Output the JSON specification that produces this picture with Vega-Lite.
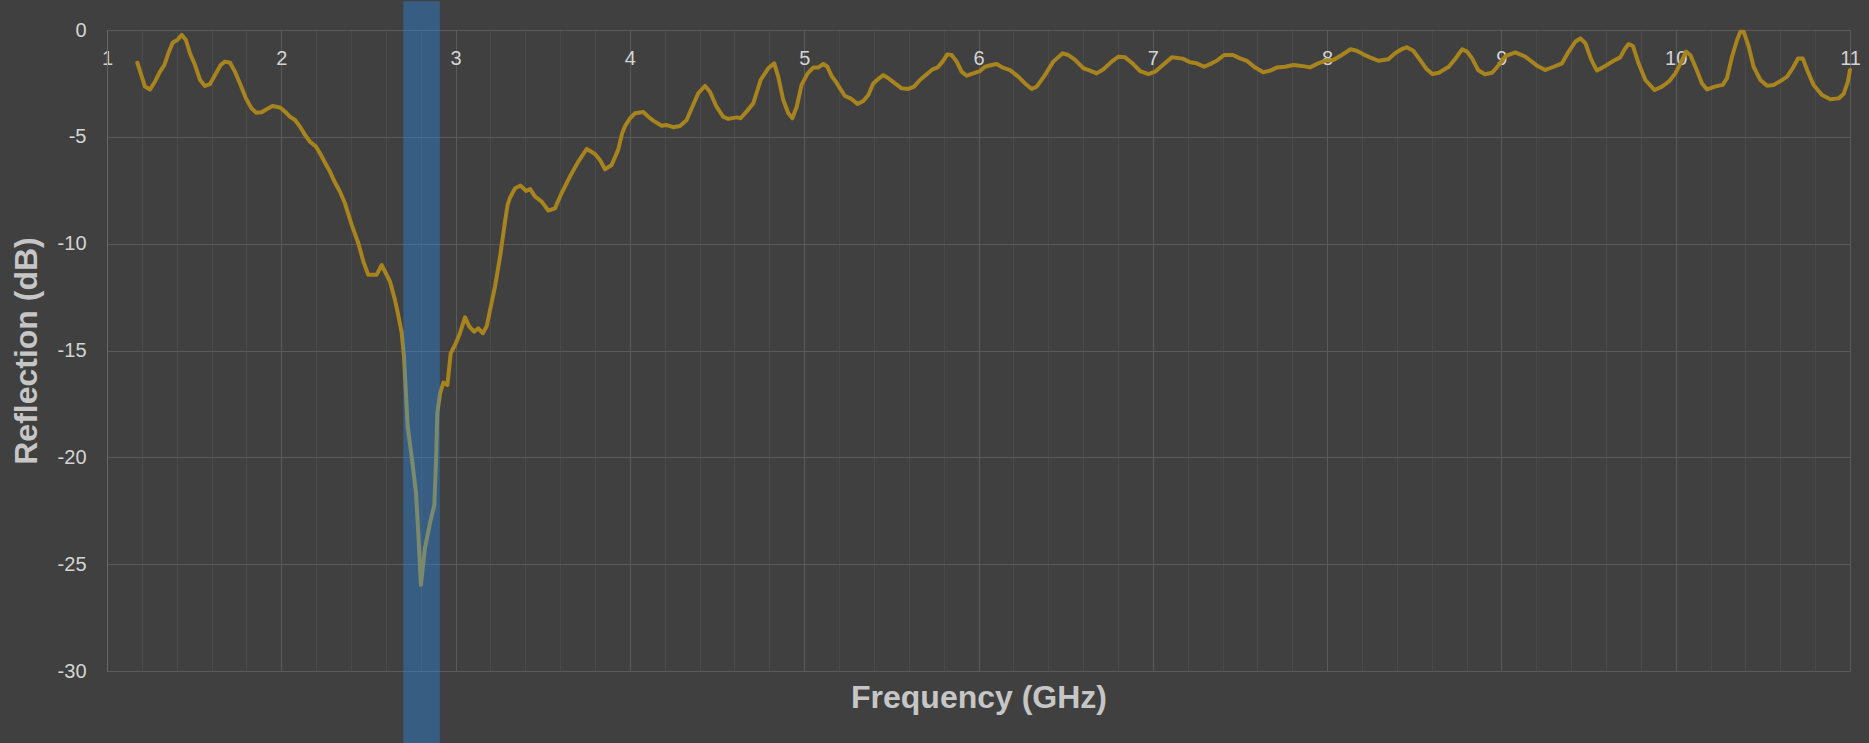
{
  "$schema": "https://vega.github.io/schema/vega-lite/v6.json",
  "autosize": {"type": "none"},
  "width": 1743,
  "height": 641,
  "padding": {"left": 107, "top": 30, "right": 19, "bottom": 72},
  "background": "#404040",
  "config": {"view": {"stroke": null}, "font": "Liberation Sans"},
  "datasets": {
    "response": [
      {"f": 1.174, "db": -1.53}, {"f": 1.218, "db": -2.65}, {"f": 1.247, "db": -2.78}, {"f": 1.275, "db": -2.42},
      {"f": 1.304, "db": -1.95}, {"f": 1.329, "db": -1.64}, {"f": 1.352, "db": -1.09}, {"f": 1.377, "db": -0.59},
      {"f": 1.404, "db": -0.47}, {"f": 1.428, "db": -0.23}, {"f": 1.453, "db": -0.47}, {"f": 1.476, "db": -1.09},
      {"f": 1.505, "db": -1.64}, {"f": 1.534, "db": -2.34}, {"f": 1.562, "db": -2.62}, {"f": 1.591, "db": -2.53},
      {"f": 1.62, "db": -2.11}, {"f": 1.652, "db": -1.64}, {"f": 1.677, "db": -1.48}, {"f": 1.706, "db": -1.53},
      {"f": 1.734, "db": -1.95}, {"f": 1.763, "db": -2.5}, {"f": 1.797, "db": -3.2}, {"f": 1.83, "db": -3.67},
      {"f": 1.855, "db": -3.87}, {"f": 1.887, "db": -3.85}, {"f": 1.916, "db": -3.71}, {"f": 1.95, "db": -3.56},
      {"f": 1.993, "db": -3.63}, {"f": 2.021, "db": -3.82}, {"f": 2.05, "db": -4.06}, {"f": 2.079, "db": -4.21},
      {"f": 2.107, "db": -4.52}, {"f": 2.136, "db": -4.91}, {"f": 2.165, "db": -5.23}, {"f": 2.199, "db": -5.46},
      {"f": 2.222, "db": -5.77}, {"f": 2.251, "db": -6.21}, {"f": 2.279, "db": -6.63}, {"f": 2.308, "db": -7.14},
      {"f": 2.337, "db": -7.57}, {"f": 2.365, "db": -8.11}, {"f": 2.404, "db": -9.12}, {"f": 2.442, "db": -9.98},
      {"f": 2.471, "db": -10.84}, {"f": 2.499, "db": -11.46}, {"f": 2.547, "db": -11.46}, {"f": 2.576, "db": -11.0},
      {"f": 2.595, "db": -11.31}, {"f": 2.624, "db": -11.78}, {"f": 2.652, "db": -12.63}, {"f": 2.671, "db": -13.34},
      {"f": 2.691, "db": -14.19}, {"f": 2.704, "db": -15.29}, {"f": 2.715, "db": -17.0}, {"f": 2.725, "db": -18.56},
      {"f": 2.748, "db": -19.97}, {"f": 2.773, "db": -21.68}, {"f": 2.786, "db": -23.55}, {"f": 2.801, "db": -25.97},
      {"f": 2.824, "db": -24.25}, {"f": 2.853, "db": -23.08}, {"f": 2.878, "db": -22.23}, {"f": 2.888, "db": -20.12},
      {"f": 2.895, "db": -17.94}, {"f": 2.911, "db": -17.0}, {"f": 2.93, "db": -16.5}, {"f": 2.953, "db": -16.61},
      {"f": 2.972, "db": -15.13}, {"f": 2.997, "db": -14.74}, {"f": 3.025, "db": -14.19}, {"f": 3.054, "db": -13.45},
      {"f": 3.079, "db": -13.88}, {"f": 3.106, "db": -14.12}, {"f": 3.13, "db": -13.96}, {"f": 3.156, "db": -14.19},
      {"f": 3.179, "db": -13.85}, {"f": 3.198, "db": -13.1}, {"f": 3.226, "db": -12.01}, {"f": 3.255, "db": -10.61},
      {"f": 3.283, "db": -9.0}, {"f": 3.298, "db": -8.2}, {"f": 3.312, "db": -7.85}, {"f": 3.341, "db": -7.41},
      {"f": 3.373, "db": -7.28}, {"f": 3.404, "db": -7.53}, {"f": 3.427, "db": -7.44}, {"f": 3.456, "db": -7.8},
      {"f": 3.494, "db": -8.03}, {"f": 3.532, "db": -8.45}, {"f": 3.57, "db": -8.35}, {"f": 3.608, "db": -7.64},
      {"f": 3.656, "db": -6.86}, {"f": 3.704, "db": -6.16}, {"f": 3.752, "db": -5.57}, {"f": 3.8, "db": -5.8},
      {"f": 3.828, "db": -6.08}, {"f": 3.857, "db": -6.52}, {"f": 3.895, "db": -6.32}, {"f": 3.933, "db": -5.6},
      {"f": 3.955, "db": -4.85}, {"f": 3.972, "db": -4.5}, {"f": 4.001, "db": -4.13}, {"f": 4.029, "db": -3.9},
      {"f": 4.077, "db": -3.84}, {"f": 4.106, "db": -4.06}, {"f": 4.134, "db": -4.24}, {"f": 4.182, "db": -4.48},
      {"f": 4.211, "db": -4.45}, {"f": 4.249, "db": -4.55}, {"f": 4.287, "db": -4.49}, {"f": 4.325, "db": -4.22},
      {"f": 4.354, "db": -3.67}, {"f": 4.392, "db": -2.96}, {"f": 4.431, "db": -2.62}, {"f": 4.459, "db": -2.89},
      {"f": 4.497, "db": -3.59}, {"f": 4.535, "db": -4.06}, {"f": 4.564, "db": -4.16}, {"f": 4.612, "db": -4.09},
      {"f": 4.635, "db": -4.13}, {"f": 4.669, "db": -3.82}, {"f": 4.708, "db": -3.43}, {"f": 4.75, "db": -2.34},
      {"f": 4.794, "db": -1.79}, {"f": 4.828, "db": -1.56}, {"f": 4.851, "db": -2.18}, {"f": 4.88, "db": -3.28},
      {"f": 4.909, "db": -3.9}, {"f": 4.932, "db": -4.13}, {"f": 4.957, "db": -3.59}, {"f": 4.985, "db": -2.57},
      {"f": 5.02, "db": -2.03}, {"f": 5.052, "db": -1.76}, {"f": 5.081, "db": -1.75}, {"f": 5.11, "db": -1.59},
      {"f": 5.133, "db": -1.72}, {"f": 5.157, "db": -2.15}, {"f": 5.182, "db": -2.42}, {"f": 5.205, "db": -2.73},
      {"f": 5.234, "db": -3.09}, {"f": 5.266, "db": -3.2}, {"f": 5.306, "db": -3.46}, {"f": 5.339, "db": -3.32},
      {"f": 5.368, "db": -3.04}, {"f": 5.396, "db": -2.5}, {"f": 5.425, "db": -2.29}, {"f": 5.454, "db": -2.11},
      {"f": 5.483, "db": -2.26}, {"f": 5.521, "db": -2.5}, {"f": 5.559, "db": -2.73}, {"f": 5.597, "db": -2.76},
      {"f": 5.63, "db": -2.65}, {"f": 5.664, "db": -2.34}, {"f": 5.703, "db": -2.07}, {"f": 5.737, "db": -1.84},
      {"f": 5.766, "db": -1.75}, {"f": 5.794, "db": -1.48}, {"f": 5.821, "db": -1.14}, {"f": 5.846, "db": -1.17},
      {"f": 5.875, "db": -1.48}, {"f": 5.903, "db": -1.95}, {"f": 5.932, "db": -2.14}, {"f": 5.97, "db": -2.03},
      {"f": 6.009, "db": -1.92}, {"f": 6.037, "db": -1.72}, {"f": 6.075, "db": -1.64}, {"f": 6.104, "db": -1.59},
      {"f": 6.139, "db": -1.76}, {"f": 6.181, "db": -1.88}, {"f": 6.228, "db": -2.18}, {"f": 6.267, "db": -2.5},
      {"f": 6.305, "db": -2.76}, {"f": 6.334, "db": -2.65}, {"f": 6.381, "db": -2.11}, {"f": 6.429, "db": -1.48},
      {"f": 6.483, "db": -1.09}, {"f": 6.515, "db": -1.17}, {"f": 6.554, "db": -1.4}, {"f": 6.602, "db": -1.79},
      {"f": 6.64, "db": -1.9}, {"f": 6.678, "db": -2.03}, {"f": 6.717, "db": -1.84}, {"f": 6.764, "db": -1.48},
      {"f": 6.803, "db": -1.25}, {"f": 6.841, "db": -1.28}, {"f": 6.879, "db": -1.53}, {"f": 6.927, "db": -1.92},
      {"f": 6.975, "db": -2.06}, {"f": 7.013, "db": -1.95}, {"f": 7.061, "db": -1.61}, {"f": 7.109, "db": -1.28},
      {"f": 7.172, "db": -1.34}, {"f": 7.214, "db": -1.51}, {"f": 7.252, "db": -1.56}, {"f": 7.294, "db": -1.72},
      {"f": 7.338, "db": -1.56}, {"f": 7.367, "db": -1.44}, {"f": 7.409, "db": -1.17}, {"f": 7.459, "db": -1.17},
      {"f": 7.501, "db": -1.33}, {"f": 7.539, "db": -1.44}, {"f": 7.587, "db": -1.76}, {"f": 7.634, "db": -1.98},
      {"f": 7.673, "db": -1.9}, {"f": 7.711, "db": -1.76}, {"f": 7.759, "db": -1.72}, {"f": 7.807, "db": -1.64},
      {"f": 7.855, "db": -1.68}, {"f": 7.902, "db": -1.75}, {"f": 7.941, "db": -1.59}, {"f": 7.988, "db": -1.44},
      {"f": 8.036, "db": -1.4}, {"f": 8.084, "db": -1.17}, {"f": 8.135, "db": -0.9}, {"f": 8.17, "db": -0.97},
      {"f": 8.208, "db": -1.14}, {"f": 8.246, "db": -1.28}, {"f": 8.294, "db": -1.44}, {"f": 8.351, "db": -1.37},
      {"f": 8.39, "db": -1.09}, {"f": 8.428, "db": -0.9}, {"f": 8.457, "db": -0.81}, {"f": 8.495, "db": -0.97},
      {"f": 8.533, "db": -1.4}, {"f": 8.572, "db": -1.84}, {"f": 8.604, "db": -2.06}, {"f": 8.641, "db": -2.0},
      {"f": 8.698, "db": -1.72}, {"f": 8.737, "db": -1.33}, {"f": 8.775, "db": -0.9}, {"f": 8.803, "db": -1.01},
      {"f": 8.832, "db": -1.33}, {"f": 8.866, "db": -1.87}, {"f": 8.905, "db": -2.07}, {"f": 8.947, "db": -2.0},
      {"f": 8.985, "db": -1.64}, {"f": 9.023, "db": -1.22}, {"f": 9.08, "db": -1.05}, {"f": 9.138, "db": -1.25},
      {"f": 9.204, "db": -1.67}, {"f": 9.252, "db": -1.87}, {"f": 9.3, "db": -1.72}, {"f": 9.348, "db": -1.56},
      {"f": 9.386, "db": -1.01}, {"f": 9.424, "db": -0.55}, {"f": 9.453, "db": -0.39}, {"f": 9.482, "db": -0.62},
      {"f": 9.516, "db": -1.4}, {"f": 9.548, "db": -1.9}, {"f": 9.596, "db": -1.68}, {"f": 9.644, "db": -1.44},
      {"f": 9.682, "db": -1.28}, {"f": 9.707, "db": -0.9}, {"f": 9.73, "db": -0.66}, {"f": 9.755, "db": -0.75},
      {"f": 9.787, "db": -1.56}, {"f": 9.826, "db": -2.34}, {"f": 9.879, "db": -2.81}, {"f": 9.921, "db": -2.65},
      {"f": 9.96, "db": -2.42}, {"f": 9.998, "db": -2.03}, {"f": 10.033, "db": -1.48}, {"f": 10.059, "db": -1.01},
      {"f": 10.084, "db": -1.17}, {"f": 10.113, "db": -1.72}, {"f": 10.151, "db": -2.5}, {"f": 10.18, "db": -2.78},
      {"f": 10.224, "db": -2.65}, {"f": 10.27, "db": -2.57}, {"f": 10.294, "db": -2.26}, {"f": 10.323, "db": -1.25},
      {"f": 10.352, "db": -0.47}, {"f": 10.371, "db": -0.08}, {"f": 10.39, "db": -0.08}, {"f": 10.419, "db": -0.78},
      {"f": 10.447, "db": -1.72}, {"f": 10.486, "db": -2.34}, {"f": 10.524, "db": -2.61}, {"f": 10.562, "db": -2.57},
      {"f": 10.601, "db": -2.39}, {"f": 10.639, "db": -2.18}, {"f": 10.671, "db": -1.79}, {"f": 10.702, "db": -1.33},
      {"f": 10.729, "db": -1.33}, {"f": 10.754, "db": -1.87}, {"f": 10.791, "db": -2.57}, {"f": 10.839, "db": -3.04},
      {"f": 10.887, "db": -3.24}, {"f": 10.935, "db": -3.2}, {"f": 10.963, "db": -3.0}, {"f": 10.988, "db": -2.42},
      {"f": 11.0, "db": -1.87}
    ],
    "band": [
      {"start": 2.7, "end": 2.91, "top": 1.35, "bottom": -33.5}
    ]
  },
  "layer": [
    {
      "data": {"name": "response"},
      "mark": {"type": "line", "color": "#a8841e", "strokeWidth": 4, "strokeJoin": "round", "strokeCap": "round"},
      "encoding": {
        "x": {
          "field": "f",
          "type": "quantitative",
          "scale": {"domain": [1, 11], "nice": false, "zero": false},
          "axis": {
            "orient": "top",
            "values": [1, 1.2, 1.4, 1.6, 1.8, 2, 2.2, 2.4, 2.6, 2.8, 3, 3.2, 3.4, 3.6, 3.8, 4, 4.2, 4.4, 4.6, 4.8, 5, 5.2, 5.4, 5.6, 5.8, 6, 6.2, 6.4, 6.6, 6.8, 7, 7.2, 7.4, 7.6, 7.8, 8, 8.2, 8.4, 8.6, 8.8, 9, 9.2, 9.4, 9.6, 9.8, 10, 10.2, 10.4, 10.6, 10.8, 11],
            "tickCount": 100,
            "grid": true,
            "gridColor": {"condition": {"test": "abs(datum.value - round(datum.value)) < 0.001", "value": "#5a5a5a"}, "value": "#4a4a4a"},
            "gridWidth": 1,
            "ticks": false,
            "tickSize": 0,
            "domain": false,
            "labelExpr": "abs(datum.value - round(datum.value)) < 0.001 ? '' + round(datum.value) : ''",
            "labelPadding": -28,
            "labelBaseline": "middle",
            "labelAlign": "center",
            "labelFontSize": 20,
            "labelColor": "#d4d4d4",
            "labelOverlap": false,
            "labelFlush": false,
            "labelBound": false,
            "title": "Frequency (GHz)",
            "titleFontSize": 32,
            "titleFontWeight": "bold",
            "titleColor": "#c6c6c6",
            "titleX": 871.5,
            "titleY": 667,
            "titleAlign": "center",
            "titleBaseline": "middle"
          }
        },
        "y": {
          "field": "db",
          "type": "quantitative",
          "scale": {"domain": [-30, 0], "nice": false, "zero": false},
          "axis": {
            "values": [-30, -25, -20, -15, -10, -5, 0],
            "grid": true,
            "gridColor": "#5a5a5a",
            "gridWidth": 1,
            "ticks": false,
            "tickSize": 0,
            "domain": true,
            "domainColor": "#666666",
            "labelExpr": "'' + datum.value",
            "labelPadding": 21,
            "labelFontSize": 20,
            "labelColor": "#d4d4d4",
            "labelBaseline": "middle",
            "title": "Reflection (dB)",
            "titleFontSize": 32,
            "titleFontWeight": "bold",
            "titleColor": "#c6c6c6",
            "titleAngle": -90,
            "titleX": -81,
            "titleY": 320.5,
            "titleAlign": "center",
            "titleBaseline": "middle"
          }
        }
      }
    },
    {
      "data": {"name": "band"},
      "mark": {"type": "rect", "color": "#2896ff", "opacity": 0.35, "clip": false},
      "encoding": {
        "x": {"field": "start", "type": "quantitative"},
        "x2": {"field": "end"},
        "y": {"field": "top", "type": "quantitative"},
        "y2": {"field": "bottom"}
      }
    }
  ]
}
